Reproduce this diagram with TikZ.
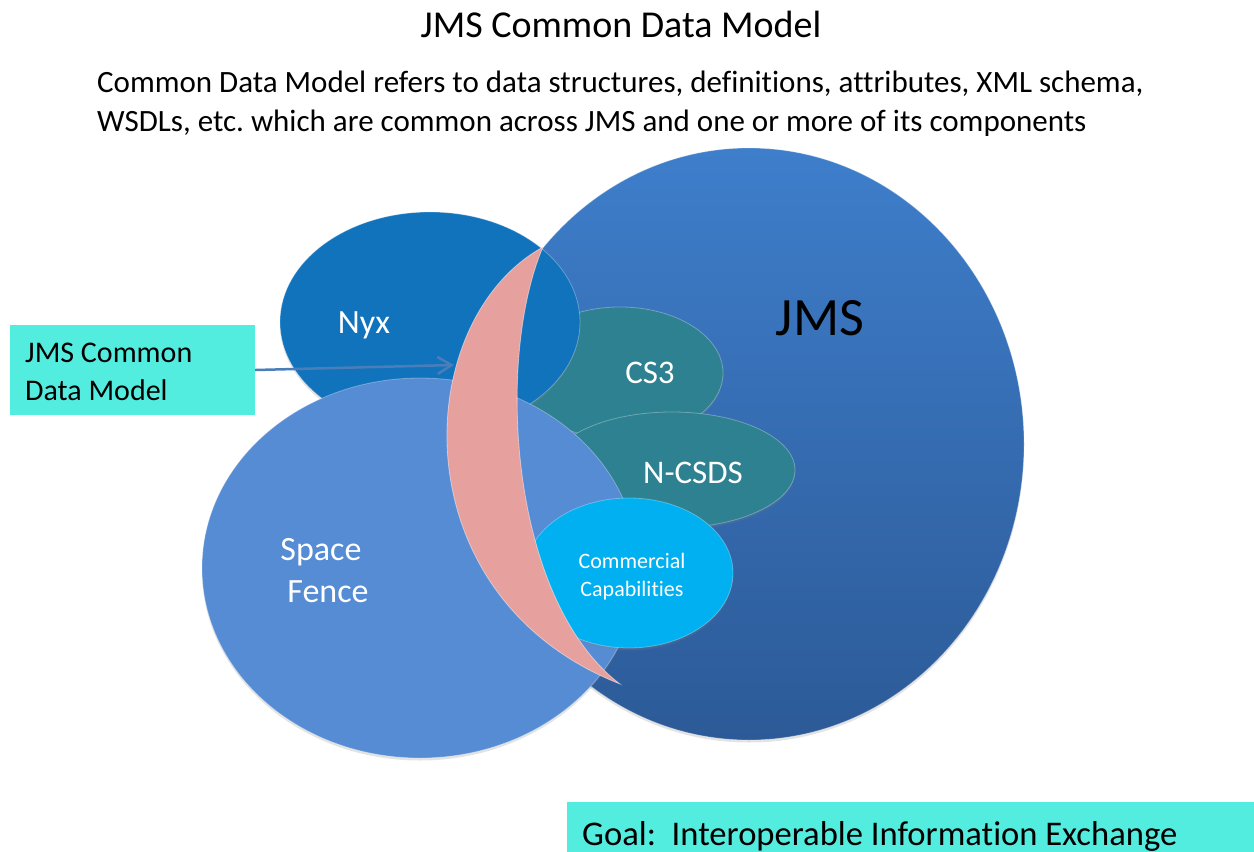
\documentclass[tikz,border=0pt]{standalone}
\usepackage{fontspec}
\setmainfont{Carlito}[Ligatures=NoCommon]
\usetikzlibrary{shadows,arrows.meta}
\definecolor{jmstop}{HTML}{3E7ECB}
\definecolor{jmsbot}{HTML}{2C5A97}
\definecolor{nyxc}{HTML}{1173BC}
\definecolor{tealc}{HTML}{2E8190}
\definecolor{sfc}{HTML}{558CD4}
\definecolor{comc}{HTML}{00B0F0}
\definecolor{pinkc}{HTML}{E6A19E}
\definecolor{boxc}{HTML}{53EDE0}
\definecolor{arrowc}{HTML}{4A7EBB}
\newcommand{\myfs}[1]{\fontsize{#1}{#1}\selectfont}
\frenchspacing
\begin{document}
\begin{tikzpicture}[x=1pt,y=-1pt,
  blob/.style={draw=white, draw opacity=0.3, line width=0.8pt,
    drop shadow={opacity=0.22, shadow xshift=0pt, shadow yshift=-2.5pt}},
  wlbl/.style={text=white, inner sep=0pt, anchor=base},
  blbl/.style={text=black, inner sep=0pt},
  boxstyle/.style={fill=boxc, inner sep=0pt, draw=none}]
\useasboundingbox (0,0) rectangle (1254,852);
\fill[white] (0,0) rectangle (1254,852);

% title and subtitle
\node[blbl, anchor=base, font=\myfs{38}] (title) at (621,37) {JMS Common Data Model};
\node[blbl, anchor=base west, font=\myfs{31}] (sub1) at (97,92) {Common Data Model refers to data structures, definitions, attributes, XML schema,};
\node[blbl, anchor=base west, font=\myfs{31}] (sub2) at (97,131) {WSDLs, etc. which are common across JMS and one or more of its components};

% shapes
\path[blob, top color=jmstop, bottom color=jmsbot] (749,444) ellipse [x radius=275, y radius=296];
\path[blob, fill=tealc] (620,373) ellipse [x radius=103, y radius=66];
\path[blob, fill=tealc] (672,470) ellipse [x radius=123, y radius=58];
\path[blob, fill=nyxc] (430,322) ellipse [x radius=150, y radius=110];
\path[blob, fill=sfc] (420,568) ellipse [x radius=218, y radius=190];
\path[blob, fill=comc] (629,573) ellipse [x radius=104, y radius=75];
\path[fill=pinkc, draw=white, draw opacity=0.45, line width=0.8pt]
  (543,247) .. controls (410,320) and (397,596) .. (620,684)
  .. controls (510,600) and (495,360) .. (543,247) -- cycle;

% labels
\node[blbl, anchor=base, font=\myfs{54}] (jms) at (820,335) {JMS};
\node[wlbl, font=\myfs{34}] (nyx) at (364,333) {Nyx};
\node[wlbl, font=\myfs{33}] (cs3) at (650,383) {CS3};
\node[wlbl, font=\myfs{33}] (ncsds) at (693,483) {N-CSDS};
\node[wlbl, font=\myfs{22}] (com1) at (632,568) {Commercial};
\node[wlbl, font=\myfs{22}] (com2) at (632,596) {Capabilities};
\node[wlbl, font=\myfs{34}] (sf1) at (321,560) {Space};
\node[wlbl, font=\myfs{34}] (sf2) at (328,602) {Fence};

% callout
\node[boxstyle, minimum width=245pt, minimum height=90pt] (cdm) at (132.5,370) {};
\node[blbl, anchor=base west, font=\myfs{30}] (cdm1) at (25,362) {JMS Common};
\node[blbl, anchor=base west, font=\myfs{30}] (cdm2) at (25,400) {Data Model};
\coordinate (cdmtip) at (454,365);
\draw[arrowc, line width=2.5pt, -{Straight Barb[length=14pt, width=17pt, line width=2.5pt]}] (cdm.east) -- (cdmtip);

% goal
\node[boxstyle, minimum width=687pt, minimum height=50pt] (goal) at (910.5,827) {};
\node[blbl, anchor=base west, font=\myfs{34.6}] (goaltxt) at (582,845) {Goal:\ \ Interoperable Information Exchange};
\end{tikzpicture}
\end{document}
